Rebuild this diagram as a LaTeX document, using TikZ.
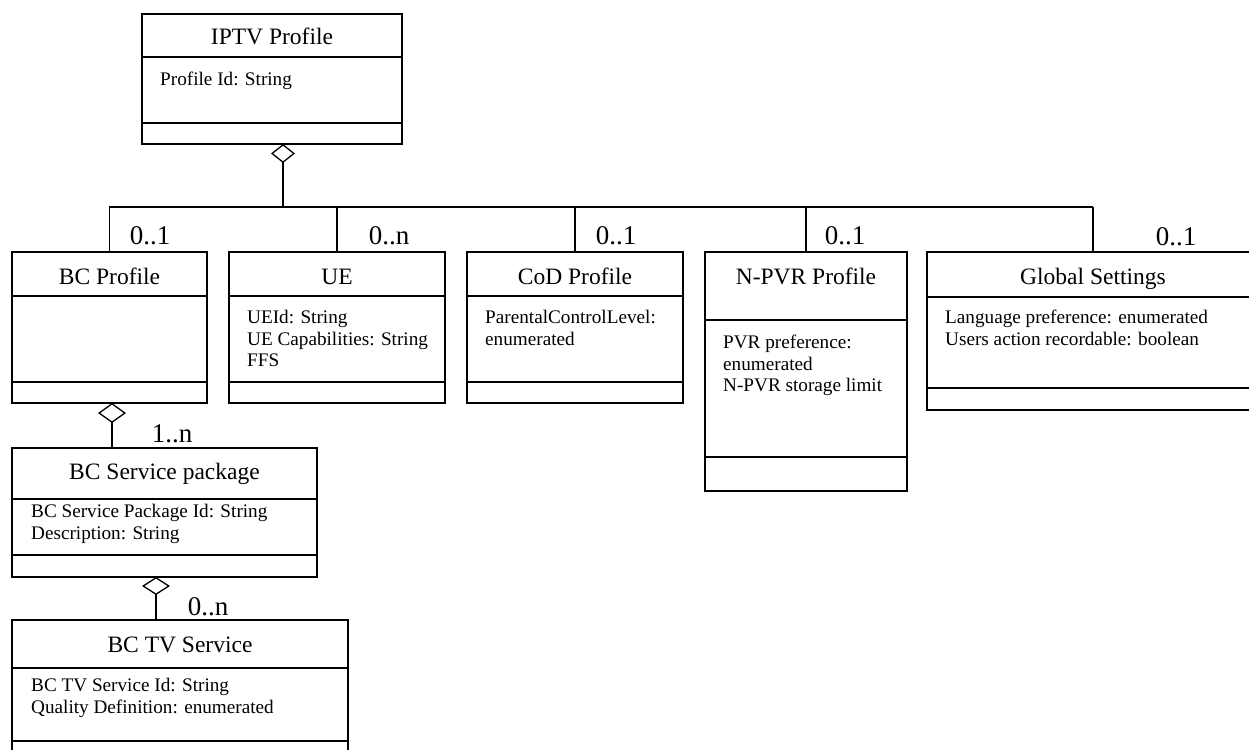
\documentclass[tikz,border=0pt]{standalone}
\usepackage{fontspec}
\setmainfont{Liberation Serif}
\usetikzlibrary{arrows.meta}
\begin{document}
\begin{tikzpicture}[x=1pt,y=-1pt,
  cls/.style={draw, line width=1.4pt, anchor=north west, inner sep=0pt, outer sep=0pt},
  div/.style={line width=1.4pt},
  ttl/.style={font=\fontsize{23.5pt}{28pt}\selectfont, inner sep=0pt, anchor=base},
  attr/.style={font=\fontsize{19.2pt}{21.8pt}\selectfont, align=left, anchor=north west, inner sep=0pt},
  mult/.style={font=\fontsize{27pt}{30pt}\selectfont, inner sep=0pt, anchor=base},
  conn/.style={line width=1.3pt},
  busline/.style={line width=2.4pt},
]
\useasboundingbox (0,0) rectangle (1249,749);
\clip (0,0) rectangle (1249,749);

% class boxes: name, x1,y1,x2,y2, title divider, attribute divider
\newcommand{\umlclassbox}[7]{%
  \node[cls, minimum width={#4-#2}, minimum height={#5-#3}] (#1) at (#2,#3) {};
  \draw[div] (#2,#6) -- (#4,#6);
  \draw[div] (#2,#7) -- (#4,#7);
}
% first-line baseline = north + 0.7*21.8 = north + 15.26
\newcommand{\fb}{15.26}

\umlclassbox{iptv}{142}{14}{402}{144}{57}{123}
\node[ttl] (iptv-t) at (272,45) {IPTV Profile};
\node[attr] (iptv-a) at (160,85-\fb) {\strut Profile Id: String};

\umlclassbox{bcp}{12}{252}{207}{403}{296}{382}
\node[ttl] (bcp-t) at (109.5,284) {BC Profile};

\umlclassbox{ue}{229}{252}{445}{403}{296}{382}
\node[ttl] (ue-t) at (337,284) {UE};
\node[attr] (ue-a) at (247,323-\fb) {\strut UEId: String\\UE Capabilities: String\\FFS};

\umlclassbox{cod}{467}{252}{683}{403}{296}{382}
\node[ttl] (cod-t) at (575,284) {CoD Profile};
\node[attr] (cod-a) at (485,323-\fb) {\strut ParentalControlLevel:\\enumerated};

\umlclassbox{npvr}{705}{252}{907}{491}{320}{457}
\node[ttl] (npvr-t) at (806,284) {N-PVR Profile};
\node[attr] (npvr-a) at (723,348-\fb) {\strut PVR preference:\\enumerated\\N-PVR storage limit};

\umlclassbox{gs}{927}{252}{1259}{410}{297}{388}
\node[ttl] (gs-t) at (1093,284) {Global Settings};
\node[attr] (gs-a) at (945,323-\fb) {\strut Language preference: enumerated\\Users action recordable: boolean};

\umlclassbox{pkg}{12}{448}{317}{577}{499}{555}
\node[ttl] (pkg-t) at (164.5,479) {BC Service package};
\node[attr] (pkg-a) at (31,517-\fb) {\strut BC Service Package Id: String\\Description: String};

\umlclassbox{tv}{12}{620}{348}{770}{668}{741}
\node[ttl] (tv-t) at (180,652) {BC TV Service};
\node[attr] (tv-a) at (31,691-\fb) {\strut BC TV Service Id: String\\Quality Definition: enumerated};

% connectors
\coordinate (bus) at (283,207);
\draw[busline] (bus) -- (gs.north |- bus);
\draw[busline, {Diamond[open,length=19pt,width=24pt,line width=1.3pt]}-] (iptv.south -| bus) -- (bus);
\draw[conn] (bus) -| (bcp.north);
\draw[conn] (ue.north) -- (ue.north |- bus);
\draw[conn] (cod.north) -- (cod.north |- bus);
\draw[conn] (npvr.north) -- (npvr.north |- bus);
\draw[conn] (gs.north) -- (gs.north |- bus);

\draw[conn, {Diamond[open,length=20pt,width=28pt,line width=1.3pt]}-] ([xshift=2.5pt]bcp.south) -- ([xshift=2.5pt]bcp.south |- pkg.north);
\draw[conn, {Diamond[open,length=18pt,width=28pt,line width=1.3pt]}-] ([xshift=-8.5pt]pkg.south) -- ([xshift=-8.5pt]pkg.south |- tv.north);

% multiplicities
\node[mult] (m1) at (150,244) {0..1};
\node[mult] (m2) at (389,244) {0..n};
\node[mult] (m3) at (616,244) {0..1};
\node[mult] (m4) at (845,244) {0..1};
\node[mult] (m5) at (1176,245) {0..1};
\node[mult] (m6) at (172,442) {1..n};
\node[mult] (m7) at (208,615) {0..n};
\end{tikzpicture}
\end{document}
